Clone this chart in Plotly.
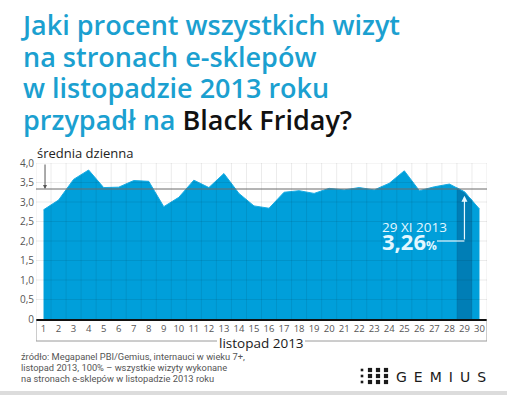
import plotly.graph_objects as go

# ---- data ----
days = list(range(1, 31))
share = [2.80, 3.05, 3.58, 3.82, 3.37, 3.38, 3.55, 3.53, 2.88, 3.12,
         3.56, 3.37, 3.73, 3.22, 2.90, 2.84, 3.25, 3.29, 3.22, 3.35,
         3.31, 3.37, 3.31, 3.48, 3.80, 3.29, 3.39, 3.46, 3.26, 2.82]
daily_avg = 100 / 30
highlight_day = 29
y_tickvals = [0, 0.5, 1.0, 1.5, 2.0, 2.5, 3.0, 3.5, 4.0]
y_ticktext = ["0", "0,5", "1,0", "1,5", "2,0", "2,5", "3,0", "3,5", "4,0"]
title_lines = ["Jaki procent wszystkich wizyt",
               "na stronach e-sklepów",
               "w listopadzie 2013 roku",
               "przypadł na <span style='color:#111111'>Black Friday?</span>"]
source_lines = ["źródło: Megapanel PBI/Gemius, internauci w wieku 7+,",
                "listopad 2013, 100% – wszystkie wizyty wykonane",
                "na stronach e-sklepów w listopadzie 2013 roku"]

# ---- layout geometry (pixels) ----
W_FIG, H_FIG = 507, 395
L, R, T, B = 36, 20, 163, 76
PW = W_FIG - L - R
PH = H_FIG - T - B
BOT = H_FIG - B


def px(x):
    return (x - L) / PW


def py(y):
    return (BOT - y) / PH


BLUE = "rgb(0,159,218)"
DARK = "rgb(0,126,182)"
TITLE_C = "rgb(27,160,208)"
GRID = "rgba(0,0,0,0.08)"
CALLOUT_Y = (BOT - 241) / (PH / 4)

fig = go.Figure()

fig.add_trace(go.Scatter(
    x=days, y=share, mode="lines", fill="tozeroy",
    fillcolor=BLUE, line=dict(color="rgb(25,172,228)", width=1),
    hoverinfo="skip", showlegend=False))

# highlighted day band (half a day on each side)
i = days.index(highlight_day)
hx = [highlight_day - 0.5, highlight_day, highlight_day + 0.5]
hy = [(share[i - 1] + share[i]) / 2, share[i], (share[i] + share[i + 1]) / 2]
fig.add_trace(go.Scatter(
    x=hx, y=hy, mode="lines", fill="tozeroy", fillcolor=DARK,
    line=dict(color="rgb(25,172,228)", width=1), hoverinfo="skip",
    showlegend=False))

shapes = []
# grid on top of area
for k in range(len(days) + 1):
    xv = days[0] - 0.5 + k
    shapes.append(dict(type="line", xref="x", yref="y", x0=xv, x1=xv,
                       y0=0, y1=4, line=dict(color=GRID, width=1), layer="above"))
for v in y_tickvals[1:]:
    shapes.append(dict(type="line", xref="x", yref="y", x0=0.5, x1=30.5,
                       y0=v, y1=v, line=dict(color=GRID, width=1), layer="above"))
# average line
shapes.append(dict(type="line", xref="x", yref="y", x0=0.5, x1=30.5,
                   y0=daily_avg, y1=daily_avg,
                   line=dict(color="#6a6a6a", width=1), layer="above"))
# bracket under axis (gap for the label)
yb = py(341)
for xv in (0.5, 30.5):
    shapes.append(dict(type="line", xref="x", yref="paper", x0=xv, x1=xv,
                       y0=0, y1=yb, line=dict(color="#9a9a9a", width=1)))
shapes.append(dict(type="line", xref="paper", yref="paper", x0=0, x1=px(217),
                   y0=yb, y1=yb, line=dict(color="#9a9a9a", width=1)))
shapes.append(dict(type="line", xref="paper", yref="paper", x0=px(305), x1=1,
                   y0=yb, y1=yb, line=dict(color="#9a9a9a", width=1)))
# callout horizontal leg
shapes.append(dict(type="line", xref="paper", yref="y", x0=px(437), x1=(highlight_day - 0.5) / 30,
                   y0=CALLOUT_Y, y1=CALLOUT_Y,
                   line=dict(color="#e6f8ff", width=1.2), layer="above"))
# bottom gray bar
shapes.append(dict(type="rect", xref="paper", yref="paper", x0=px(0), x1=px(W_FIG),
                   y0=py(395), y1=py(391), line=dict(width=0), fillcolor="#dcdcdc"))
# logo dots
for c, cx in enumerate([362, 370, 378, 386]):
    s = 1.3 if c == 0 else 2.1
    for cy in [370, 376, 382]:
        shapes.append(dict(type="rect", xref="paper", yref="paper",
                           x0=px(cx - s), x1=px(cx + s), y0=py(cy + s), y1=py(cy - s),
                           line=dict(width=0), fillcolor="#1a1a1a"))

ann = []
title_html = "<br>".join("<span style='font-size:27px'>%s</span>" % t for t in title_lines)
ann.append(dict(text=title_html, xref="paper", yref="paper",
                x=px(18), y=py(71.5), xanchor="left", yanchor="middle", align="left",
                showarrow=False,
                font=dict(family="Open Sans", size=24.4, color=TITLE_C, weight=600)))
ann.append(dict(text="średnia dzienna", xref="paper", yref="paper", x=px(35), y=py(153),
                xanchor="left", yanchor="middle", showarrow=False,
                font=dict(family="Open Sans", size=13, color="#222222")))
# arrow from label to avg line
ann.append(dict(text="", x=1.1, y=daily_avg, ax=1.1, ay=4.0, axref="x", ayref="y",
                xref="x", yref="y", showarrow=True, arrowhead=2, arrowsize=0.8,
                arrowwidth=1, arrowcolor="#555555"))
# callout arrow up to highlighted day
ann.append(dict(text="", x=highlight_day, y=share[i], ax=highlight_day,
                ay=CALLOUT_Y, axref="x", ayref="y", xref="x", yref="y",
                showarrow=True, arrowhead=2, arrowsize=1, arrowwidth=1.2,
                arrowcolor="#e6f8ff", standoff=4))
ann.append(dict(text="29 XI 2013<br><span style='font-size:22px'><b>3,26</b></span>"
                     "<span style='font-size:12px'><b>%</b></span>",
                xref="paper", yref="paper", x=px(380), y=py(237), align="left",
                xanchor="left", yanchor="middle", showarrow=False,
                font=dict(family="Open Sans", size=13.5, color="#e3f7ff")))
ann.append(dict(text="listopad 2013", xref="paper", yref="paper", x=px(261), y=py(342.5),
                xanchor="center", yanchor="middle", showarrow=False,
                font=dict(family="Open Sans", size=13.5, color="#1a1a1a", weight=500)))
for t, yc in zip(source_lines, [356, 367, 378]):
    ann.append(dict(text=t, xref="paper", yref="paper", x=px(19), y=py(yc),
                    xanchor="left", yanchor="middle", showarrow=False,
                    font=dict(family="Roboto", size=9.3, color="#555555")))
ann.append(dict(text="G\u2002E\u2002M\u2002I\u2002U\u2002S", xref="paper", yref="paper",
                x=px(488), y=py(377), xanchor="right", yanchor="middle", showarrow=False,
                font=dict(family="DejaVu Sans", size=14, color="#1a1a1a")))

fig.update_layout(
    width=W_FIG, height=H_FIG,
    margin=dict(l=L, r=R, t=T, b=B, pad=0),
    paper_bgcolor="white", plot_bgcolor="white",
    shapes=shapes, annotations=ann, showlegend=False,
    xaxis=dict(range=[0.5, 30.5], tickvals=days, ticktext=[str(d) for d in days],
               showgrid=False, zeroline=False, showline=True, linecolor="#111111",
               linewidth=2, ticks="", tickfont=dict(family="Open Sans", size=9.5, color="#555555"),
               fixedrange=True, layer="above traces"),
    yaxis=dict(range=[0, 4], tickvals=y_tickvals, ticktext=y_ticktext, showgrid=False,
               zeroline=False, showline=False, ticks="", ticklabelstandoff=1,
               tickfont=dict(family="Open Sans", size=10, color="#555555"), fixedrange=True),
)

fig.write_html("out.html", config={"displayModeBar": False},
               post_script="document.body.style.margin='0';document.body.style.padding='0';")
